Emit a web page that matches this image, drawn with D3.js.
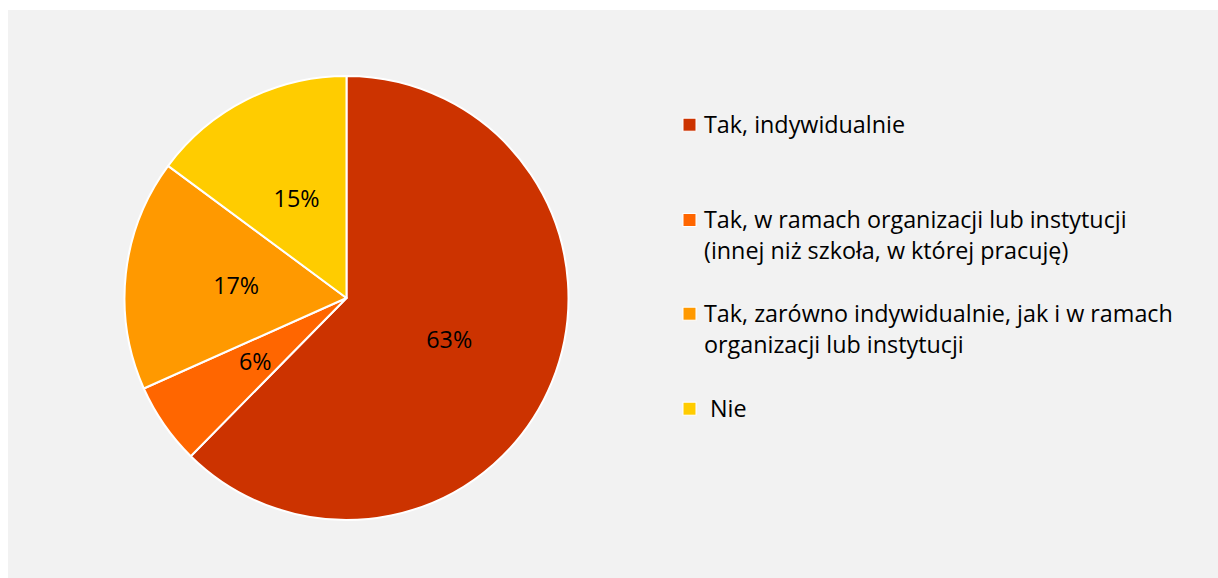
<!DOCTYPE html>
<html>
<head>
<meta charset="utf-8">
<script src="https://cdn.jsdelivr.net/npm/d3@7"></script>
<style>
html,body{margin:0;padding:0;background:#fff;}
svg{display:block;}
</style>
</head>
<body>
<svg id="chart" width="1218" height="578"></svg>
<script>
const categories = [
  ["Tak, indywidualnie"],
  ["Tak, w ramach organizacji lub instytucji", "(innej niż szkoła, w której pracuję)"],
  ["Tak, zarówno indywidualnie, jak i w ramach", "organizacji lub instytucji"],
  [" Nie"]
];
const values = [63, 6, 17, 15];
const labels = ["63%", "6%", "17%", "15%"];
const colors = ["#CC3300", "#FF6600", "#FF9900", "#FFCC00"];

const W = 1218, H = 578;
const FONT = "'Open Sans', sans-serif";
const svg = d3.select("#chart");

svg.append("rect").attr("x", 8).attr("y", 10).attr("width", W - 8).attr("height", H - 10).attr("fill", "#F2F2F2");

// fit font size so the longest legend line matches the reference width (~469px)
const probe = svg.append("text").attr("font-family", FONT).attr("font-size", 20)
  .text("Tak, zarówno indywidualnie, jak i w ramach");
const fs = Math.min(24, 20 * 469 / probe.node().getComputedTextLength());
probe.remove();

const cx = 346.5, cy = 298, r = 222;
const g = svg.append("g").attr("transform", `translate(${cx},${cy})`);
const pie = d3.pie().sort(null).value(d => d)(values);
const arc = d3.arc().innerRadius(0).outerRadius(r);
const labelArc = d3.arc().innerRadius(r * 0.5).outerRadius(r * 0.5);

g.selectAll("path.slice").data(pie).join("path")
  .attr("class", "slice")
  .attr("d", arc)
  .attr("fill", (d, i) => colors[i])
  .attr("stroke", "#fff")
  .attr("stroke-width", 2)
  .attr("stroke-linejoin", "round");

g.selectAll("text.lbl").data(pie).join("text")
  .attr("class", "lbl")
  .attr("transform", d => { const c = labelArc.centroid(d); return `translate(${c[0]},${c[1]})`; })
  .attr("text-anchor", "middle")
  .attr("dy", "0.36em")
  .attr("font-family", FONT)
  .attr("font-size", fs)
  .attr("fill", "#000")
  .text((d, i) => labels[i]);

const legendY = [132.7, 228, 321.7, 416.7];
const lg = svg.append("g");
categories.forEach((lines, i) => {
  lg.append("rect")
    .attr("x", 683).attr("y", legendY[i] - 14.5)
    .attr("width", 13).attr("height", 13)
    .attr("fill", colors[i]).attr("stroke", "#fff").attr("stroke-width", 1);
  const t = lg.append("text")
    .attr("x", 704).attr("y", legendY[i])
    .attr("font-family", FONT).attr("font-size", fs).attr("fill", "#000")
    .style("white-space", "pre");
  lines.forEach((ln, j) => {
    t.append("tspan").attr("x", 704).attr("y", legendY[i] + j * 31).text(ln);
  });
});
</script>
</body>
</html>
